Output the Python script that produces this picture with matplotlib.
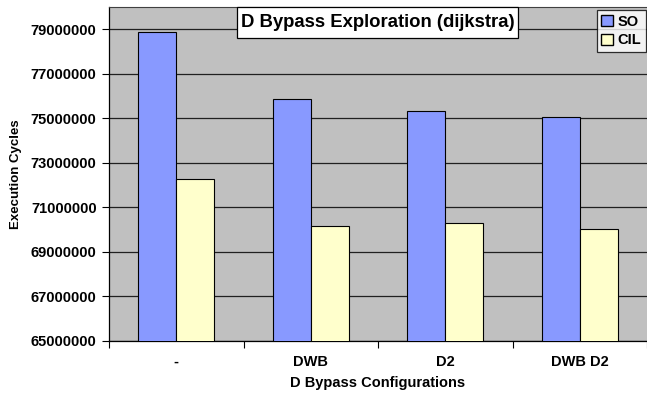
import matplotlib
matplotlib.use("Agg")
import matplotlib.pyplot as plt
import numpy as np
from matplotlib.patches import Patch, Rectangle

categories = ["-", "DWB", "D2", "DWB D2"]
so_values = [78870000, 75890000, 75310000, 75040000]
cil_values = [72270000, 70150000, 70320000, 70020000]
y_ticks = [65000000, 67000000, 69000000, 71000000, 73000000, 75000000, 77000000, 79000000]

plt.rcParams['font.family'] = ['Liberation Sans', 'DejaVu Sans']
plt.rcParams['font.weight'] = 'bold'

W, H = 647, 395
fig = plt.figure(figsize=(W/100, H/100), dpi=100)
ax = fig.add_axes([109/W, 1 - 341/H, (W - 109)/W, (341 - 7)/H])
ax.set_facecolor('#C0C0C0')

x = np.arange(len(categories))
w = 0.283
ax.bar(x - w/2, so_values, width=w, color='#8899FF', edgecolor='black', linewidth=0.8, label='SO', zorder=3)
ax.bar(x + w/2, cil_values, width=w, color='#FFFFCC', edgecolor='black', linewidth=0.8, label='CIL', zorder=3)

ax.set_ylim(65000000, 80000000)
ax.set_xlim(-0.5, len(categories) - 0.5)
ax.set_yticks(y_ticks)
ax.set_yticklabels([str(v) for v in y_ticks], fontsize=10.5, fontweight='bold')
ax.yaxis.grid(True, color='#202020', linewidth=0.9, zorder=1)
ax.set_axisbelow(True)

ax.set_xticks(x)
ax.set_xticklabels(categories, fontsize=10.5, fontweight='bold')
ax.tick_params(axis='x', length=0, pad=10)
ax.set_xticks(np.arange(len(categories) + 1) - 0.5, minor=True)
ax.tick_params(axis='x', which='minor', length=5, direction='out', width=0.8)
ax.tick_params(axis='y', length=5, direction='out', width=0.8, pad=4)

for s in ['left', 'bottom']:
    ax.spines[s].set_color('black')
    ax.spines[s].set_linewidth(0.9)
ax.spines['top'].set_color('#404040')
ax.spines['right'].set_visible(False)

ax.set_ylabel('Execution Cycles', fontsize=9.5, fontweight='bold', labelpad=6)
ax.set_xlabel('D Bypass Configurations', fontsize=10.5, fontweight='bold', labelpad=5)

# title box
fig.patches.append(Rectangle((237/W, 1 - 37.5/H), (518 - 237)/W, 30.5/H, transform=fig.transFigure,
                             facecolor='white', edgecolor='black', linewidth=0.9, zorder=5))
fig.text((237 + 518)/2/W, 1 - 22.5/H, 'D Bypass Exploration (dijkstra)', ha='center', va='center',
         fontsize=13.3, fontweight='bold', zorder=6)

handles = [Patch(facecolor='#8899FF', edgecolor='black', label='SO'),
           Patch(facecolor='#FFFFCC', edgecolor='black', label='CIL')]
leg = ax.legend(handles=handles, loc='upper right', bbox_to_anchor=(1.0, 1 - 2/334), fontsize=10.5,
                frameon=True, fancybox=False, edgecolor='black', handlelength=0.8, handleheight=0.8,
                handletextpad=0.3, borderpad=0.3, labelspacing=0.3, borderaxespad=0.1)
leg.get_frame().set_linewidth(0.9)
for t in leg.get_texts():
    t.set_fontweight('bold')

fig.savefig('out.png', dpi=100)
